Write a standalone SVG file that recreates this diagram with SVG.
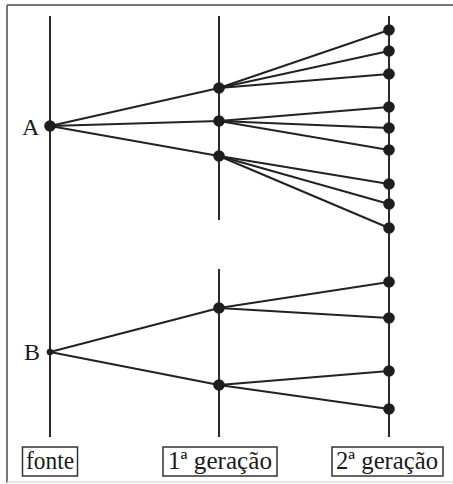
<svg xmlns="http://www.w3.org/2000/svg" width="453" height="484" viewBox="0 0 453 484">
<style>
.ax{stroke:#2a2a2a;stroke-width:2;fill:none}
.ln{stroke:#222;stroke-width:2;fill:none}
.dot{fill:#1e1e1e}
.lbl{font-family:"Liberation Serif","Times New Roman",serif;font-size:24px;fill:#1a1a1a}
.bl{font-family:"Liberation Serif","Times New Roman",serif;font-size:25px;fill:#1a1a1a}
.box{fill:#fff;stroke:#333;stroke-width:1.5}
</style>
<rect width="453" height="484" fill="#fff"/>
<g id="frame">
<line x1="7" y1="5" x2="453" y2="5" stroke="#777" stroke-width="2"/>
<line x1="7" y1="5" x2="7" y2="483" stroke="#777" stroke-width="2"/>
<line x1="7" y1="482" x2="453" y2="482" stroke="#ddd" stroke-width="1.5"/>
</g>
<g id="axes">
<line class="ax" x1="50" y1="16" x2="50" y2="437"/>
<line class="ax" x1="219" y1="16" x2="219" y2="220"/>
<line class="ax" x1="219" y1="269" x2="219" y2="437"/>
<line class="ax" x1="389" y1="16" x2="389" y2="437"/>
</g>
<g id="connectors">
<line class="ln" x1="50" y1="126" x2="219" y2="88"/>
<line class="ln" x1="50" y1="126" x2="219" y2="121"/>
<line class="ln" x1="50" y1="126" x2="219" y2="156"/>
<line class="ln" x1="219" y1="88" x2="389" y2="30"/>
<line class="ln" x1="219" y1="88" x2="389" y2="51"/>
<line class="ln" x1="219" y1="88" x2="389" y2="74"/>
<line class="ln" x1="219" y1="121" x2="389" y2="107"/>
<line class="ln" x1="219" y1="121" x2="389" y2="128"/>
<line class="ln" x1="219" y1="121" x2="389" y2="150"/>
<line class="ln" x1="219" y1="156" x2="389" y2="184"/>
<line class="ln" x1="219" y1="156" x2="389" y2="204"/>
<line class="ln" x1="219" y1="156" x2="389" y2="228"/>
<line class="ln" x1="50" y1="352" x2="219" y2="308"/>
<line class="ln" x1="50" y1="352" x2="219" y2="385"/>
<line class="ln" x1="219" y1="308" x2="389" y2="282"/>
<line class="ln" x1="219" y1="308" x2="389" y2="318"/>
<line class="ln" x1="219" y1="385" x2="389" y2="371"/>
<line class="ln" x1="219" y1="385" x2="389" y2="409"/>
</g>
<g id="nodeA"><circle class="dot" cx="50" cy="126" r="5.8"/><text class="lbl" x="22" y="135">A</text></g>
<g id="nodeB"><circle class="dot" cx="50" cy="352" r="3.3"/><text class="lbl" x="24" y="360">B</text></g>
<g id="gen1">
<circle class="dot" cx="219" cy="88" r="5.8"/>
<circle class="dot" cx="219" cy="121" r="5.8"/>
<circle class="dot" cx="219" cy="156" r="5.8"/>
<circle class="dot" cx="219" cy="308" r="5.8"/>
<circle class="dot" cx="219" cy="385" r="5.8"/>
</g>
<g id="gen2">
<circle class="dot" cx="389" cy="30" r="5.8"/>
<circle class="dot" cx="389" cy="51" r="5.8"/>
<circle class="dot" cx="389" cy="74" r="5.8"/>
<circle class="dot" cx="389" cy="107" r="5.8"/>
<circle class="dot" cx="389" cy="128" r="5.8"/>
<circle class="dot" cx="389" cy="150" r="5.8"/>
<circle class="dot" cx="389" cy="184" r="5.8"/>
<circle class="dot" cx="389" cy="204" r="5.8"/>
<circle class="dot" cx="389" cy="228" r="5.8"/>
<circle class="dot" cx="389" cy="282" r="5.8"/>
<circle class="dot" cx="389" cy="318" r="5.8"/>
<circle class="dot" cx="389" cy="371" r="5.8"/>
<circle class="dot" cx="389" cy="409" r="5.8"/>
</g>
<g id="label-fonte"><rect class="box" x="22.5" y="447" width="55" height="29"/><text class="bl" x="26" y="469" textLength="48" lengthAdjust="spacingAndGlyphs">fonte</text></g>
<g id="label-gen1"><rect class="box" x="163" y="447" width="114" height="29"/><text class="bl" x="168" y="469" textLength="104" lengthAdjust="spacingAndGlyphs">1ª geração</text></g>
<g id="label-gen2"><rect class="box" x="332" y="447" width="111" height="29"/><text class="bl" x="336" y="469" textLength="102" lengthAdjust="spacingAndGlyphs">2ª geração</text></g>
</svg>
